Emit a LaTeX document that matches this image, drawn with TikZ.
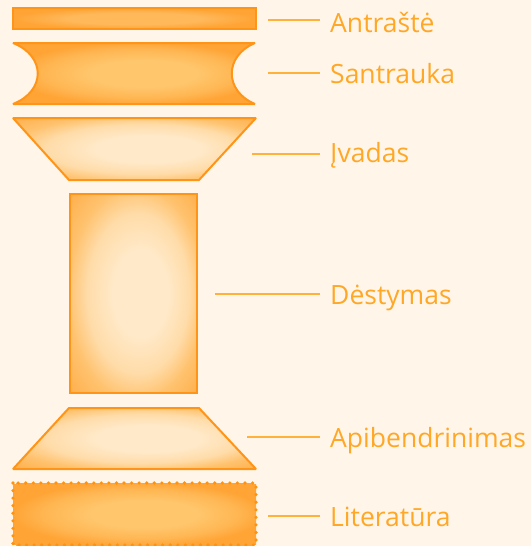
\documentclass[tikz,border=0pt]{standalone}
\usepackage{fontspec}
\setmainfont{Open Sans}
\definecolor{bg}{HTML}{FFF6E9}
\definecolor{edge}{HTML}{FF9518}
\definecolor{dots}{HTML}{FF920F}
\definecolor{lead}{HTML}{FFB13B}
\definecolor{txt}{HTML}{FFA726}
\definecolor{deep}{HTML}{FFA435}
\definecolor{mid}{HTML}{FFC66C}
\definecolor{midb}{HTML}{FFB652}
\definecolor{pale}{HTML}{FFE9C8}
\definecolor{paleb}{HTML}{FFDCA9}
\definecolor{palec}{HTML}{FFC26E}
\definecolor{paled}{HTML}{FFAE4A}
\definecolor{topfill}{HTML}{FFB85A}
\pgfdeclareradialshading{broadlight}{\pgfpoint{4bp}{0bp}}{color(0bp)=(pale); color(11bp)=(pale); color(20bp)=(paleb); color(27bp)=(palec); color(36bp)=(paled)}
\pgfdeclareradialshading{broaddark}{\pgfpoint{3bp}{0bp}}{color(0bp)=(mid); color(11bp)=(mid); color(20bp)=(midb); color(26bp)=(deep); color(35bp)=(deep)}
\pgfdeclareradialshading{broadtop}{\pgfpoint{0bp}{0bp}}{color(0bp)=(topfill); color(14bp)=(topfill); color(25bp)=(deep); color(35bp)=(deep)}
\begin{document}
\begin{tikzpicture}[x=1pt,y=-1pt,
  shapebox/.style={draw=edge,line width=2pt,line join=miter,miter limit=2},
  darkfill/.style={shading=broaddark},
  lightfill/.style={shading=broadlight},
  leader/.style={draw=lead,line width=1.4pt,shorten >=10pt},
  label/.style={anchor=base west,inner sep=0pt,text=txt,font=\fontsize{26.5}{30}\selectfont}]
\fill[bg] (0,0) rectangle (531,546);
\useasboundingbox (0,0) rectangle (531,546);
% shapes
\path[shapebox,shading=broadtop] (13,8) rectangle (256,29);
\path[shapebox,darkfill] (13,43) -- (255,43) .. controls (224,56) and (224,91) .. (255,104)
   -- (13,104) .. controls (46,91) and (46,56) .. (13,43) -- cycle;
\path[shapebox,lightfill] (13,118) -- (256,118) -- (199,180) -- (69,180) -- cycle;
\path[shapebox,lightfill] (70,194) rectangle (197,393);
\path[shapebox,lightfill] (69,408) -- (199,408) -- (256,469) -- (13,469) -- cycle;
\path[darkfill] (13,483) rectangle (256,545);
\draw[dots,line width=3.6pt,line cap=round,dash pattern=on 0pt off 7.56pt] (13,483) rectangle (256,545);
% leader start points
\coordinate (a1) at (268,20);
\coordinate (a2) at (268,73);
\coordinate (a3) at (252,154);
\coordinate (a4) at (215,294);
\coordinate (a5) at (247,437);
\coordinate (a6) at (268,516);
% labels
\node[label] (t1) at (330,32) {Antraštė};
\node[label] (t2) at (330,83) {Santrauka};
\node[label] (t3) at (330,162) {Įvadas};
\node[label] (t4) at (330,304) {Dėstymas};
\node[label] (t5) at (330,447) {Apibendrinimas};
\node[label] (t6) at (330,526) {Literatūra};
\foreach \i in {1,...,6} \draw[leader] (a\i) -- (a\i -| t\i.west);
\end{tikzpicture}
\end{document}
